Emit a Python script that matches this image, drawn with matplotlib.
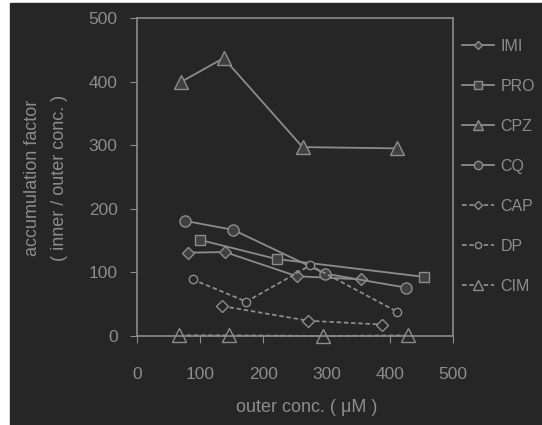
import matplotlib.pyplot as plt
from matplotlib.patches import Rectangle

plt.rcParams['font.family'] = ['Liberation Sans', 'DejaVu Sans']

# data
imi_x = [80, 139, 253, 354]
imi_y = [131, 132, 94, 89]
pro_x = [100, 221, 454]
pro_y = [151, 121, 93]
cpz_x = [69, 137, 262, 411]
cpz_y = [399, 437, 297, 295]
cq_x = [76, 152, 298, 426]
cq_y = [181, 167, 98, 76]
cap_x = [135, 271, 388]
cap_y = [47, 24, 18]
dp_x = [88, 173, 274, 412]
dp_y = [89, 54, 111, 38]
cim_x = [67, 145, 295, 429]
cim_y = [1, 1, 0, 1]

bg = '#262626'
fg = '#8c8c8c'
fill = '#404040'

fig = plt.figure(figsize=(5.42, 4.25), dpi=100, facecolor='white')
fig.patches.append(Rectangle((10/542, 0), 1 - 10/542, 422/425,
                             transform=fig.transFigure, color=bg, zorder=-10))
ax = fig.add_axes([137/542, 89/425, 316/542, 318/425])
ax.set_facecolor(bg)

dash = (0, (2.5, 1.5))
series = [
    (imi_x, imi_y, 'IMI', 'D', 6, fill, '-'),
    (pro_x, pro_y, 'PRO', 's', 7, fill, '-'),
    (cpz_x, cpz_y, 'CPZ', '^', 10, fill, '-'),
    (cq_x, cq_y, 'CQ', 'o', 8, fill, '-'),
    (cap_x, cap_y, 'CAP', 'D', 6, bg, dash),
    (dp_x, dp_y, 'DP', 'o', 6, bg, dash),
    (cim_x, cim_y, 'CIM', '^', 10, bg, dash),
]
for x, y, lab, m, ms, fc, ls in series:
    ax.plot(x, y, color=fg, lw=1.3, ls=ls, marker=m, ms=ms,
            mfc=fc, mec=fg, mew=1.0, label=lab, clip_on=False)

ax.set_xlim(0, 500)
ax.set_ylim(0, 500)
ax.set_xticks([0, 100, 200, 300, 400, 500])
ax.set_yticks([0, 100, 200, 300, 400, 500])
for s in ax.spines.values():
    s.set_color(fg)
    s.set_linewidth(1.2)
ax.tick_params(axis='x', colors=fg, labelsize=12.5, direction='out', length=5, pad=17)
ax.tick_params(axis='y', colors=fg, labelsize=12.5, direction='out', length=5, pad=9)

fig.text(307/542, 1 - 407/425, 'outer conc. ( μM )', color=fg, fontsize=13,
         ha='center', va='center')
fig.text(33/542, 1 - 178/425, 'accumulation factor', color=fg, fontsize=13,
         ha='center', va='center', rotation=90)
fig.text(60/542, 1 - 178/425, '( inner / outer conc. )', color=fg, fontsize=13,
         ha='center', va='center', rotation=90)

leg = fig.legend(loc='upper left', bbox_to_anchor=(462/542, 1 - 39/425),
                 frameon=False, fontsize=11.5, labelcolor=fg, handlelength=2.0,
                 handletextpad=0.4, labelspacing=1.56, borderpad=0, borderaxespad=0,
                 markerscale=0.75)

fig.savefig('out.png', dpi=100, facecolor='white')
